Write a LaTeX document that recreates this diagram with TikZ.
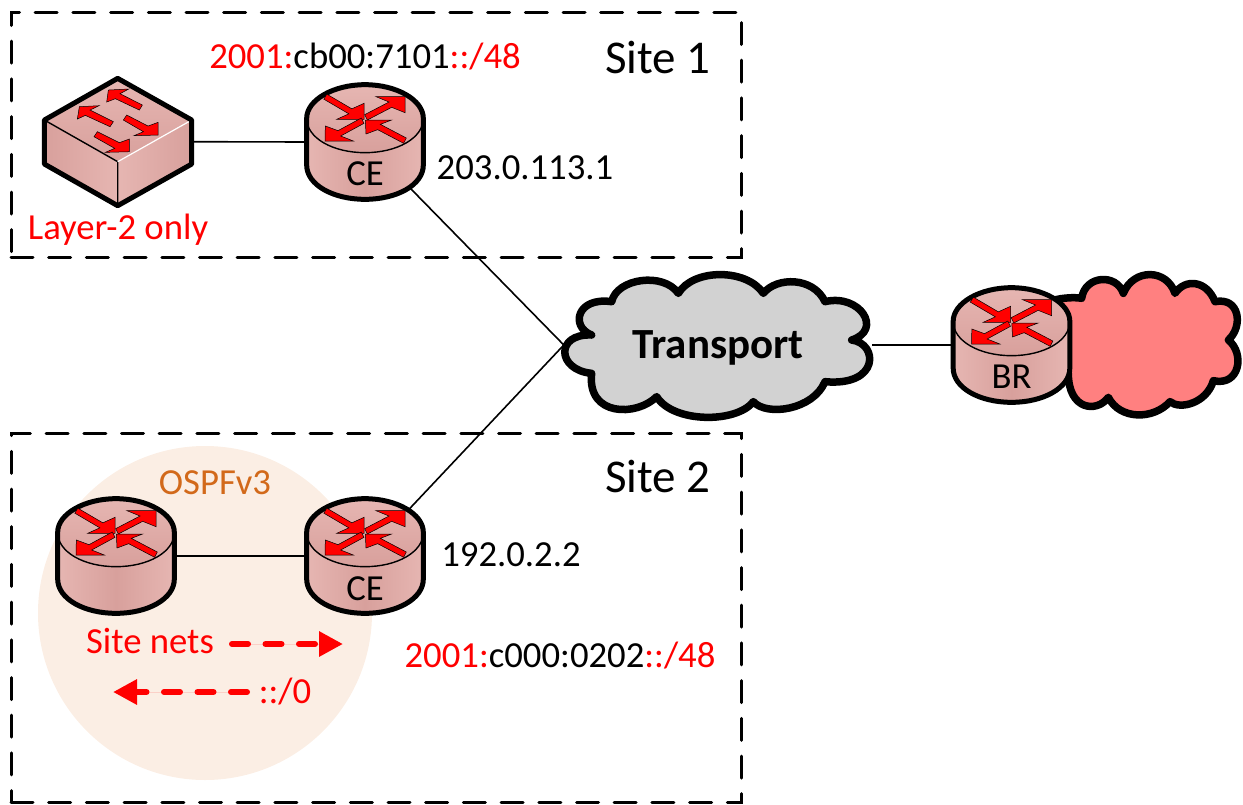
\documentclass[tikz,border=0pt]{standalone}
\usepackage{fontspec}
\setmainfont{Carlito}
\usetikzlibrary{arrows.meta}
\definecolor{rosea}{HTML}{E6B6B2}
\definecolor{roseb}{HTML}{D8A09C}
\definecolor{peach}{HTML}{FBEEE4}
\definecolor{ospf}{HTML}{D2691A}
\definecolor{cloudgrey}{HTML}{D2D2D2}
\definecolor{cloudred}{HTML}{FF8080}
\newcommand{\lblsize}{\fontsize{36.7}{42}\selectfont}
\tikzset{
  sitebox/.style={draw=black,line width=3pt,line cap=round,dash pattern=on 22pt off 15.7pt,inner sep=0pt,rectangle},
  hidden/.style={inner sep=0pt,rectangle,minimum width=#1},
  link/.style={draw=black,line width=1.6pt},
  thick outline/.style={line width=5pt,line join=round},
  minor/.style={draw=black,line width=1.4pt},
  redarrow/.style={fill=red,draw=black,line width=.5pt,line join=miter},
  lbl/.style={inner sep=0pt,anchor=base,font=\lblsize},
  redlbl/.style={lbl,text=red},
  sitelbl/.style={inner sep=0pt,anchor=base,font=\fontsize{47}{54}\selectfont},
  flow/.style={draw=red,fill=red,line width=6pt,line cap=round,dash pattern=on 16pt off 17.5pt,-{Triangle[length=24pt,width=24pt]}},
  router/.pic={
    \begin{scope}[x=0.33333pt,y=-0.33333pt,shift={(-225,-216)}]
      \shade[left color=rosea,right color=rosea,middle color=roseb]
        (50,145) -- (50,285) .. controls (50,345) and (130,388) .. (225,388)
        .. controls (320,388) and (400,345) .. (400,285) -- (400,145) -- cycle;
      \shade[top color=rosea,bottom color=roseb]
        (50,145) .. controls (50,90) and (130,44) .. (225,44)
        .. controls (320,44) and (400,90) .. (400,145)
        .. controls (400,205) and (320,248) .. (225,248)
        .. controls (130,248) and (50,205) .. (50,145) -- cycle;
      \draw[minor] (50,145) .. controls (50,205) and (130,248) .. (225,248)
        .. controls (320,248) and (400,205) .. (400,145);
      \draw[draw=black,thick outline]
        (50,145) .. controls (50,90) and (130,44) .. (225,44)
        .. controls (320,44) and (400,90) .. (400,145)
        -- (400,285) .. controls (400,345) and (320,388) .. (225,388)
        .. controls (130,388) and (50,345) .. (50,285) -- cycle;
      \filldraw[redarrow] (101.5,87.5)--(110.5,72.5)--(185.5,116.5)--(222,100)--(222,148)--(140,148)--(176.5,131.5)--cycle;
      \filldraw[redarrow] (224,134)--(232,150)--(305,112)--(345,128)--(345,80)--(258,80)--(297,96)--cycle;
      \filldraw[redarrow] (349,204)--(341,220)--(263,179)--(228,192)--(226,150)--(305,150)--(271,163)--cycle;
      \filldraw[redarrow] (214,144)--(222,160)--(152,198)--(190,213)--(105,213)--(106,168)--(144,182)--cycle;
    \end{scope}
  },
  switchpic/.pic={
    \begin{scope}[x=0.33333pt,y=-0.33333pt,shift={(-293,-245)}]
      \shade[left color=roseb,right color=rosea] (73,180)--(293,305)--(293,437)--(73,312)--cycle;
      \shade[left color=rosea,right color=roseb] (293,305)--(515,180)--(515,312)--(293,437)--cycle;
      \shade[top color=rosea,bottom color=roseb] (293,55)--(515,180)--(293,305)--(73,180)--cycle;
      \draw[minor] (73,180)--(293,305)--(293,437);
      \draw[white,line width=1.2pt] (293,305)--(515,180);
      \draw[draw=black,thick outline] (293,55)--(515,180)--(515,312)--(293,437)--(73,312)--(73,180)--cycle;
      \filldraw[redarrow] (265,90)--(326,87)--(300,101)--(367,135)--(358,150)--(286,116)--(260,126)--cycle;
      \filldraw[redarrow] (178,140)--(237,137)--(210,150)--(280,185)--(270,200)--(196,166)--(172,177)--cycle;
      \filldraw[redarrow] (320,165)--(310,180)--(370,215)--(342,227)--(414,225)--(414,187)--(384,198)--cycle;
      \filldraw[redarrow] (232,215)--(222,230)--(284,265)--(256,277)--(328,275)--(328,237)--(298,248)--cycle;
    \end{scope}
  }
}
\begin{document}
\begin{tikzpicture}[x=1pt,y=-1pt]
\useasboundingbox (0,0) rectangle (1243,804);
% OSPF area
\node[circle,fill=peach,inner sep=0pt,minimum size=334pt] (area) at (205,613) {};
% site frames
\node[sitebox,minimum width=730pt,minimum height=245pt] (site1) at (376,134.5) {};
\node[sitebox,minimum width=730pt,minimum height=369pt] (site2) at (376,617.5) {};
% placeholders for devices
\node[hidden=148pt,minimum height=128pt] (sw) at (117.7,141.7) {};
\node[hidden=118pt,minimum height=116pt] (ce1) at (365,142) {};
\node[hidden=118pt,minimum height=116pt] (ce2) at (365,556) {};
\node[hidden=118pt,minimum height=116pt] (r2) at (116,556) {};
\node[hidden=118pt,minimum height=116pt] (br) at (1011.5,345) {};
\node[hidden=308pt,minimum height=140pt] (transport) at (718,345) {};
% connectors
\draw[link] (sw.east) -- (ce1.west);
\draw[link] (r2.east) -- (ce2.west);
\draw[link] (ce1.center) -- (transport.west);
\draw[link] (ce2.center) -- (transport.west);
\draw[link] (transport.east) -- (br.center);
% transport cloud
\begin{scope}[shift={(550,260)},x=0.33333pt,y=-0.33333pt]
\filldraw[fill=cloudgrey,draw=black,line width=7.5pt,line join=round]
 (125,225) .. controls (60,200) and (80,110) .. (185,125)
 .. controls (200,55) and (340,35) .. (385,100)
 .. controls (430,25) and (590,25) .. (640,100)
 .. controls (680,50) and (790,50) .. (825,125)
 .. controls (930,100) and (1000,210) .. (905,240)
 .. controls (985,250) and (990,380) .. (825,365)
 .. controls (790,450) and (650,470) .. (610,425)
 .. controls (560,490) and (370,490) .. (320,410)
 .. controls (260,470) and (110,470) .. (125,340)
 .. controls (20,330) and (15,220) .. (125,225) -- cycle;
\end{scope}
% red cloud
\begin{scope}[shift={(940,260)},x=0.33333pt,y=-0.33333pt]
\filldraw[fill=cloudred,draw=black,line width=7.5pt,line join=round]
 (330,125) .. controls (350,115) and (400,110) .. (425,115)
 .. controls (435,45) and (530,40) .. (550,100)
 .. controls (580,25) and (680,25) .. (705,100)
 .. controls (735,55) and (800,60) .. (825,125)
 .. controls (900,110) and (910,200) .. (865,240)
 .. controls (915,280) and (900,380) .. (820,362)
 .. controls (800,430) and (720,450) .. (690,425)
 .. controls (640,480) and (540,480) .. (505,412)
 .. controls (470,460) and (385,450) .. (385,340)
 -- (300,300) -- cycle;
\end{scope}
% devices
\pic at (sw) {switchpic};
\pic at (ce1) {router};
\pic at (ce2) {router};
\pic at (r2) {router};
\pic at (br) {router};
% texts
\node[lbl] (lce1) at (365,185) {CE};
\node[lbl] (lce2) at (365,600) {CE};
\node[lbl] (lbr) at (1011.5,388) {BR};
\node[inner sep=0pt,anchor=base,font=\fontsize{43}{50}\selectfont\bfseries] (ltr) at (718,358) {Transport};
\node[sitelbl] (ls1) at (658,73) {Site 1};
\node[sitelbl] (ls2) at (658,492) {Site 2};
\node[lbl] (p1) at (365,68) {\textcolor{red}{2001:}cb00:7101\textcolor{red}{::/48}};
\node[lbl] (p2) at (560,667) {\textcolor{red}{2001:}c000:0202\textcolor{red}{::/48}};
\node[lbl] (ip1) at (525,179) {203.0.113.1};
\node[lbl] (ip2) at (511,566) {192.0.2.2};
\node[redlbl] (l2) at (118,239) {Layer-2 only};
\node[lbl,text=ospf] (lospf) at (215,494) {OSPFv3};
\node[redlbl] (nets) at (150,653) {Site nets};
\node[redlbl] (dflt) at (285,703) {::/0};
% flows
\coordinate (f1a) at (232,644); \coordinate (f1b) at (343,644);
\coordinate (f2a) at (247,692); \coordinate (f2b) at (113,692);
\draw[flow] (f1a) -- (f1b);
\draw[flow] (f2a) -- (f2b);
\end{tikzpicture}
\end{document}
